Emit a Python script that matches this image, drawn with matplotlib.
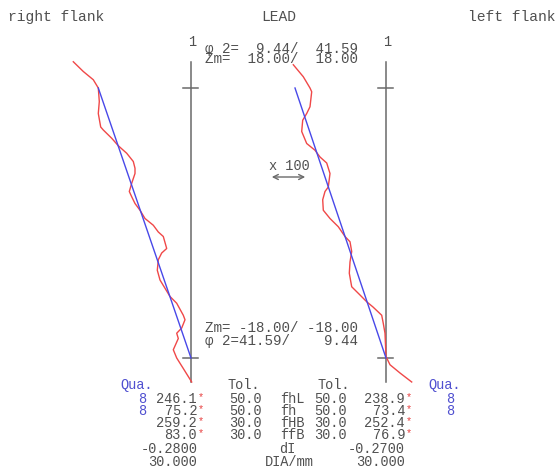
import matplotlib
matplotlib.use("Agg")
import matplotlib.pyplot as plt
from matplotlib.patches import FancyArrowPatch

# ---------------- data ----------------
# right flank (left panel): profile deviation vs. face-width position z (mm)
right_flank_z = [21.5, 20.2, 19.1, 18.0, 16.2, 14.6, 12.8, 12.4, 11.3, 10.3, 9.3, 8.2,
                 7.3, 6.6, 5.3, 4.2, 3.5, 2.6, 1.7, 0.6, -0.3, -1.2, -1.8, -3.4, -4.0,
                 -4.9, -6.3, -7.6, -8.7, -9.8, -10.7, -12.3, -12.9, -14.0, -14.7, -15.4,
                 -16.9, -18.0, -19.4, -21.2]
right_flank_dev = [-117.7, -107.7, -97.7, -92.7, -91.7, -92.7, -90.3, -87.7, -79.3, -72.7,
                   -64.3, -57.7, -56.0, -56.0, -59.3, -61.7, -59.3, -56.0, -51.0, -46.0,
                   -37.7, -32.7, -27.7, -24.3, -29.3, -32.7, -33.7, -31.0, -26.0, -21.0,
                   -14.3, -7.7, -6.0, -9.3, -14.3, -12.7, -17.7, -14.3, -7.7, 0.7]
right_fit_z = [18.0, -18.0]
right_fit_dev = [-92.7, 0.0]

# left flank (right panel)
left_flank_z = [21.1, 19.5, 18.0, 17.5, 15.5, 14.6, 13.7, 12.2, 10.6, 9.7, 8.8, 8.0, 6.6,
                4.8, 4.2, 3.1, 1.7, 0.6, -0.5, -1.8, -2.5, -3.8, -5.2, -6.7, -8.5, -9.6,
                -10.5, -11.2, -12.3, -13.4, -14.7, -17.8, -18.9, -20.0, -21.2]
left_flank_dev = [-92.7, -82.7, -76.0, -74.3, -76.0, -79.3, -83.3, -84.3, -79.3, -71.0,
                  -66.0, -59.3, -56.0, -57.7, -61.0, -63.3, -62.7, -56.0, -47.7, -41.0,
                  -36.0, -34.3, -36.0, -36.7, -34.3, -26.0, -19.3, -13.0, -4.3, -2.7,
                  -1.0, 0.0, 4.0, 14.0, 25.7]
left_fit_z = [18.0, -18.0]
left_fit_dev = [-91.0, 0.0]

eval_z = [18.0, -18.0]          # evaluation range limits (Zm)
axis_z = [21.5, -21.2]          # extent of the reference axis

header_top = ["\u03c6 2=  9.44/  41.59", "Zm=  18.00/  18.00"]
header_bot = ["Zm= -18.00/ -18.00", "\u03c6 2=41.59/    9.44"]

row_labels = ["fhL", "fh", "fHB", "ffB"]
qua_right = ["8", "8", "", ""]
val_right = ["246.1", "75.2", "259.2", "83.0"]
tol_right = ["50.0", "50.0", "30.0", "30.0"]
tol_left = ["50.0", "50.0", "30.0", "30.0"]
val_left = ["238.9", "73.4", "252.4", "76.9"]
qua_left = ["8", "8", "", ""]
dI_vals = ["-0.2800", "-0.2700"]
dia_vals = ["30.000", "30.000"]

# ---------------- layout ----------------
W, H = 558, 471
fig = plt.figure(figsize=(W / 100, H / 100), dpi=100)
fig.patch.set_facecolor("white")

bg = fig.add_axes([0, 0, 1, 1])
bg.set_xlim(0, W)
bg.set_ylim(H, 0)
bg.axis("off")

FONT = "Liberation Mono"
TXT = "#505050"
BLUE = "#5050d0"
RED = "#e84040"
LINE_RED = "#f04848"
LINE_BLUE = "#4848e8"
GRAY = "#6a6a6a"
FS = 10.5
FS_T = 9.8

PX_PER_MM = 7.5
Y_ZTOP = 88.0


def z_of_px(y):
    return 18.0 - (y - Y_ZTOP) / PX_PER_MM


def panel(axis_px, L, R, T=30, B=400):
    ax = fig.add_axes([L / W, 1 - B / H, (R - L) / W, (B - T) / H])
    ax.set_xlim(L - axis_px, R - axis_px)
    ax.set_ylim(z_of_px(B), z_of_px(T))
    ax.axis("off")
    return ax


for axis_px, L, R, zz, dd, fz, fd in [
    (191, 40, 240, right_flank_z, right_flank_dev, right_fit_z, right_fit_dev),
    (386, 250, 450, left_flank_z, left_flank_dev, left_fit_z, left_fit_dev),
]:
    ax = panel(axis_px, L, R)
    ax.plot([0, 0], axis_z, color=GRAY, lw=1.1, clip_on=False)
    for z in eval_z:
        ax.plot([-8, 7], [z, z], color=GRAY, lw=1.1, clip_on=False)
    ax.plot(dd, zz, color=LINE_RED, lw=1.0, clip_on=False)
    ax.plot(fd, fz, color=LINE_BLUE, lw=1.0, clip_on=False)
    bg.text(axis_px + 1, 42, "1", fontfamily=FONT, fontsize=FS_T, color=TXT,
            ha="center", va="center")


def t(x, y, s, ha="left", color=TXT, fs=FS_T):
    bg.text(x, y, s, fontfamily=FONT, fontsize=fs, color=color, ha=ha, va="center")


# titles
t(8, 17, "right flank", fs=FS)
t(279, 17, "LEAD", ha="center", fs=FS)
t(556, 17, "left flank", ha="right", fs=FS)

# header values
t(205, 49, header_top[0], fs=10.2)
t(205, 59, header_top[1], fs=10.2)
t(205, 328, header_bot[0], fs=10.2)
t(205, 341, header_bot[1], fs=10.2)

# magnification
t(269, 166, "x 100")
bg.add_patch(FancyArrowPatch((269, 177), (308, 177), arrowstyle="<->",
                             mutation_scale=9, color=GRAY, lw=1.0))

# table
t(120, 385, "Qua.", color=BLUE)
t(428, 385, "Qua.", color=BLUE)
t(228, 385, "Tol.")
t(318, 385, "Tol.")
rows_y = [399, 411, 423, 435]
for i, y in enumerate(rows_y):
    if qua_right[i]:
        t(146, y, qua_right[i], ha="right", color=BLUE)
    if qua_left[i]:
        t(454, y, qua_left[i], ha="right", color=BLUE)
    t(197, y, val_right[i], ha="right")
    t(198, y - 2, "*", color=RED, fs=7.5)
    t(262, y, tol_right[i], ha="right")
    t(280, y, row_labels[i])
    t(347, y, tol_left[i], ha="right")
    t(405, y, val_left[i], ha="right")
    t(406, y - 2, "*", color=RED, fs=7.5)

t(198, 449, dI_vals[0], ha="right")
t(279, 449, "dI")
t(405, 449, dI_vals[1], ha="right")
t(197, 462, dia_vals[0], ha="right")
t(265, 462, "DIA/mm")
t(405, 462, dia_vals[1], ha="right")

fig.savefig("out.png", dpi=100, facecolor="white")
